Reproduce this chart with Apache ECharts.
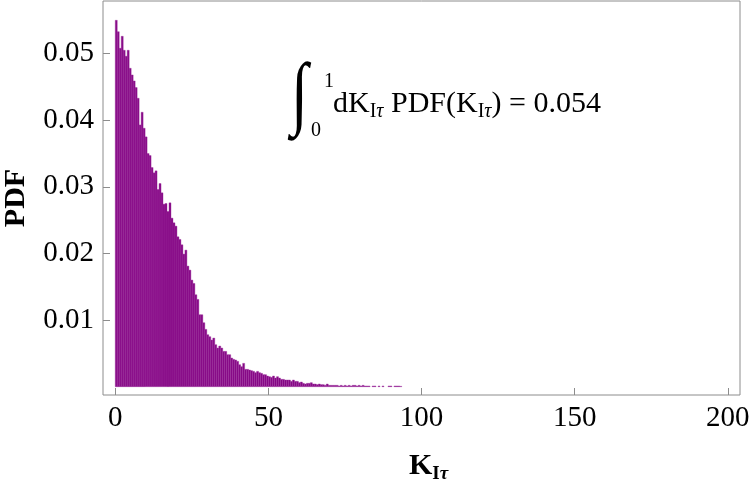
<!DOCTYPE html>
<html>
<head>
<meta charset="utf-8">
<script src="https://cdn.jsdelivr.net/npm/echarts@6/dist/echarts.min.js"></script>
<style>
  html, body { margin: 0; padding: 0; background: #fff; }
  #chart { width: 750px; height: 480px; }
</style>
</head>
<body>
<div id="chart"></div>
<script>
// histogram of K_Iτ, bins start at 0
const binWidth = 0.65;
const pdfValues = [
  0.0550, 0.0533, 0.0508, 0.0526, 0.0505, 0.0496, 0.0505, 0.0478, 0.0468, 0.0459,
  0.0449, 0.0433, 0.0393, 0.0412, 0.0388, 0.0375, 0.0350, 0.0347, 0.0329, 0.0321,
  0.0324, 0.0296, 0.0305, 0.0291, 0.0274, 0.0275, 0.0263, 0.0276,
  0.0253, 0.0246, 0.0241, 0.0225, 0.0221, 0.0213, 0.0199, 0.0205, 0.0181, 0.0175,
  0.0160, 0.0155, 0.0138, 0.0131, 0.0108, 0.0108, 0.0096, 0.0086, 0.0078, 0.0075,
  0.0070, 0.0073, 0.0063, 0.0058, 0.0061, 0.0058, 0.0053, 0.0053, 0.0048,
  0.0048, 0.0043, 0.0041, 0.0040, 0.0038, 0.0033, 0.0030, 0.0035, 0.0026, 0.0026,
  0.0025, 0.0024, 0.0023, 0.0021, 0.0023, 0.0021, 0.0020, 0.0018, 0.0018, 0.0016,
  0.0015, 0.0014, 0.0016, 0.0013, 0.0015, 0.0013, 0.0011, 0.0011, 0.0010,
  0.0010, 0.0010, 0.0008, 0.0010, 0.0008, 0.0008, 0.0006, 0.0007, 0.0005, 0.0004,
  0.0005, 0.0005, 0.0006, 0.0004, 0.0004, 0.0003, 0.0004, 0.0003, 0.0003, 0.0002,
  0.0004, 0.0002, 0.0002, 0.0002, 0.0002, 0.0002, 0.0001, 0.0002, 0.0001, 0.0002,
  0.0001, 0.0002, 0.0001, 0.0002,
  0.0002, 0.0001, 0.0002, 0.0001, 0.0002, 0.0001, 0.0001, 0.0001, 0, 0.0001,
  0.0001, 0, 0.0001, 0, 0.0001, 0, 0, 0.0001, 0.0001, 0,
  0.0001, 0.0001, 0.0001, 0.00005
];
const xTicks = [0, 50, 100, 150, 200];
const yTicks = [0.01, 0.02, 0.03, 0.04, 0.05];

const serif = "'Liberation Serif', 'Times New Roman', serif";
const frameColor = "#8c8c8c";

const binData = pdfValues.map((v, i) => [i * binWidth, (i + 1) * binWidth, v]);

const myChart = echarts.init(document.getElementById("chart"));

const options = {
  animation: false,
  backgroundColor: "#fff",
  grid: {
    left: 103,
    right: 10,
    top: 1,
    bottom: 85,
    show: true,
    borderColor: frameColor,
    borderWidth: 1,
    outerBoundsMode: "none",
  },
  xAxis: {
    type: "value",
    min: -4,
    max: 204,
    axisLine: { show: false, onZero: false },
    splitLine: { show: false },
    axisTick: {
      inside: true,
      length: 7,
      customValues: xTicks,
      lineStyle: { color: frameColor },
    },
    axisLabel: {
      customValues: xTicks,
      margin: 9,
      color: "#000",
      fontFamily: serif,
      fontSize: 29,
    },
    name: "{k|K}{s|I}{t|τ}",
    nameLocation: "middle",
    nameGap: 53,
    nameTextStyle: {
      padding: [0, 0, 0, 14],
      rich: {
        k: { fontFamily: serif, fontSize: 30, fontWeight: "bold", color: "#000", lineHeight: 36 },
        s: { fontFamily: serif, fontSize: 19, fontWeight: "bold", color: "#000", lineHeight: 14, verticalAlign: "bottom" },
        t: { fontFamily: serif, fontSize: 19, fontWeight: "bold", fontStyle: "italic", color: "#000", lineHeight: 14, verticalAlign: "bottom" },
      },
    },
  },
  yAxis: {
    type: "value",
    min: -0.00125,
    max: 0.0579,
    axisLine: { show: false, onZero: false },
    splitLine: { show: false },
    axisTick: {
      inside: true,
      length: 7,
      customValues: yTicks,
      lineStyle: { color: frameColor },
    },
    axisLabel: {
      customValues: yTicks,
      margin: 9,
      color: "#000",
      fontFamily: serif,
      fontSize: 29,
      formatter: (v) => v.toFixed(2),
    },
    name: "PDF",
    nameLocation: "middle",
    nameGap: 72,
    nameTextStyle: {
      fontFamily: serif,
      fontSize: 30,
      fontWeight: "bold",
      color: "#000",
    },
  },
  series: [
    {
      type: "custom",
      data: binData,
      encode: { x: [0, 1], y: 2 },
      renderItem: function (params, api) {
        const v = api.value(2);
        if (!v) return null;
        const p0 = api.coord([api.value(0), v]);
        const p1 = api.coord([api.value(1), 0]);
        return {
          type: "rect",
          shape: { x: p0[0], y: p0[1], width: p1[0] - p0[0], height: p1[1] - p0[1] },
          style: { fill: "#860886", stroke: "#9c309c", lineWidth: 0.4 },
        };
      },
    },
  ],
  graphic: [
    {
      type: "text",
      left: 291,
      top: 58,
      scaleY: 1.3,
      style: { text: "∫", fontFamily: serif, fontSize: 62, fill: "#000" },
    },
    {
      type: "text",
      left: 324,
      top: 72,
      style: { text: "1", fontFamily: serif, fontSize: 20, fill: "#000" },
    },
    {
      type: "text",
      left: 311,
      top: 121,
      style: { text: "0", fontFamily: serif, fontSize: 20, fill: "#000" },
    },
    {
      type: "text",
      left: 333,
      top: 89,
      style: {
        text: "{a|dK}{s|I}{t|τ}{a| PDF(K}{s|I}{t|τ}{a|) = 0.054}",
        rich: {
          a: { fontFamily: serif, fontSize: 30, fill: "#000", lineHeight: 36 },
          s: { fontFamily: serif, fontSize: 20, fill: "#000", lineHeight: 12, verticalAlign: "bottom" },
          t: { fontFamily: serif, fontSize: 20, fontStyle: "italic", fill: "#000", lineHeight: 12, verticalAlign: "bottom" },
        },
      },
    },
  ],
};

myChart.setOption(options);

window.addEventListener("resize", function () {
  myChart.resize();
});
</script>
</body>
</html>
